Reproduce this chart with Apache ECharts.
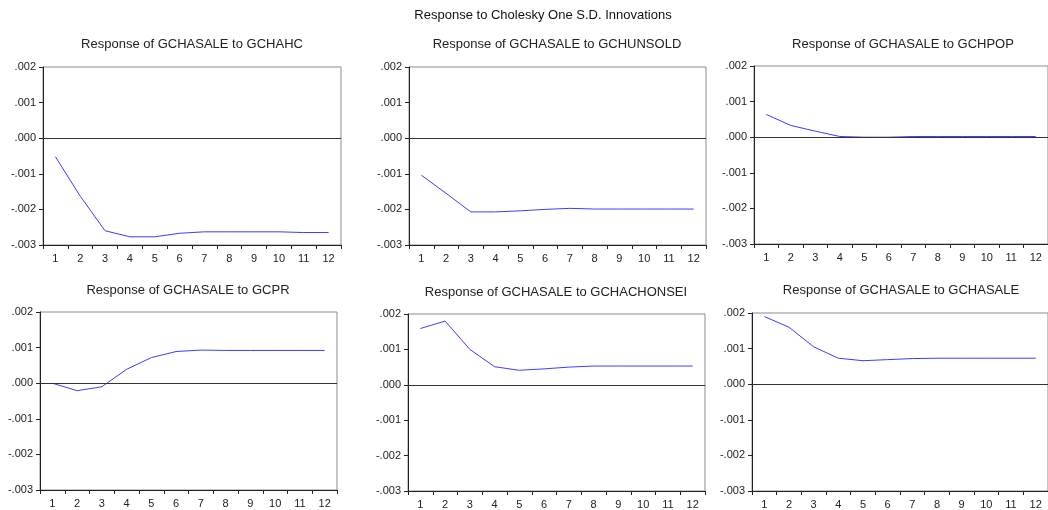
<!DOCTYPE html>
<html>
<head>
<meta charset="utf-8">
<script src="https://cdn.jsdelivr.net/npm/echarts@6/dist/echarts.min.js"></script>
<style>
html,body{margin:0;padding:0;background:#fff;}
#chart{width:1048px;height:510px;}
</style>
</head>
<body>
<div id="chart"></div>
<script>
// ---- data ----
const periods = ['1','2','3','4','5','6','7','8','9','10','11','12'];
const mainTitle = 'Response to Cholesky One S.D. Innovations';
const panelTitles = [
  'Response of GCHASALE to GCHAHC',
  'Response of GCHASALE to GCHUNSOLD',
  'Response of GCHASALE to GCHPOP',
  'Response of GCHASALE to GCPR',
  'Response of GCHASALE to GCHACHONSEI',
  'Response of GCHASALE to GCHASALE'
];
const respGCHAHC     = [-0.00052, -0.00163, -0.00260, -0.00277, -0.00277, -0.00267, -0.00263, -0.00263, -0.00263, -0.00263, -0.00265, -0.00265];
const respGCHUNSOLD  = [-0.00104, -0.00155, -0.00207, -0.00207, -0.00204, -0.00200, -0.00197, -0.00199, -0.00199, -0.00199, -0.00199, -0.00199];
const respGCHPOP     = [0.00064, 0.00033, 0.00017, 0.00002, 0.00000, 0.00000, 0.00002, 0.00002, 0.00002, 0.00002, 0.00002, 0.00002];
const respGCPR       = [0.00000, -0.00021, -0.00010, 0.00039, 0.00072, 0.00089, 0.00093, 0.00092, 0.00092, 0.00092, 0.00092, 0.00092];
const respGCHACHONSEI= [0.00159, 0.00180, 0.00100, 0.00051, 0.00041, 0.00045, 0.00050, 0.00053, 0.00053, 0.00053, 0.00053, 0.00053];
const respGCHASALE   = [0.00190, 0.00160, 0.00105, 0.00073, 0.00066, 0.00069, 0.00072, 0.00073, 0.00073, 0.00073, 0.00073, 0.00073];
const yTicks = { min: -0.003, max: 0.002, interval: 0.001 };
const allSeries = [respGCHAHC, respGCHUNSOLD, respGCHPOP, respGCPR, respGCHACHONSEI, respGCHASALE];

// ---- layout ----
const grids = [
  {left: 43,  top: 67,  width: 298, height: 178},
  {left: 409, top: 67,  width: 297, height: 178},
  {left: 754, top: 66,  width: 298, height: 178},
  {left: 40,  top: 312, width: 297, height: 178},
  {left: 408, top: 314, width: 297, height: 178},
  {left: 752, top: 313, width: 298, height: 178}
];
const titlePos = [[192,44],[557,44],[903,44],[188,290],[556,292],[901,290]];
const FONT = '"Liberation Sans", Arial, sans-serif';

function fmt(v){
  if (Math.abs(v) < 1e-9) return '.000';
  const s = Math.abs(v).toFixed(3).replace(/^0/, '');
  return (v < 0 ? '-' : '') + s;
}

const option = {
  animation: false,
  backgroundColor: '#ffffff',
  grid: grids.map(g => Object.assign({show: true, borderColor: '#8c8c8c', borderWidth: 1, backgroundColor: 'transparent'}, g)),
  xAxis: grids.map((g, i) => ({
    type: 'category', gridIndex: i, data: periods, boundaryGap: true,
    axisLine: {show: true, onZero: false, lineStyle: {color: '#222', width: 1}},
    axisTick: {show: true, length: 4, lineStyle: {color: '#222'}},
    axisLabel: {color: '#222', fontSize: 11, fontFamily: FONT, margin: 8, interval: 0},
    splitLine: {show: false}
  })),
  yAxis: grids.map((g, i) => ({
    type: 'value', gridIndex: i, min: yTicks.min, max: yTicks.max, interval: yTicks.interval,
    axisLine: {show: true, onZero: false, lineStyle: {color: '#222', width: 1}},
    axisTick: {show: true, length: 4, lineStyle: {color: '#222'}},
    axisLabel: {color: '#222', fontSize: 11, fontFamily: FONT, margin: 7, formatter: fmt},
    splitLine: {show: false}
  })),
  series: allSeries.map((d, i) => ({
    type: 'line', xAxisIndex: i, yAxisIndex: i, data: d,
    showSymbol: false, symbol: 'none',
    lineStyle: {color: '#3c3cff', width: 1},
    markLine: {
      silent: true, symbol: ['none','none'], label: {show: false},
      lineStyle: {color: '#333', width: 1, type: 'solid'},
      data: [{yAxis: 0}]
    },
    z: 3
  })),
  graphic: [
    {type: 'text', x: 543, y: 15, style: {text: mainTitle, fill: '#111', font: '13px ' + FONT, textAlign: 'center', textVerticalAlign: 'middle'}}
  ].concat(panelTitles.map((t, i) => ({
    type: 'text', x: titlePos[i][0], y: titlePos[i][1],
    style: {text: t, fill: '#222', font: '13px ' + FONT, textAlign: 'center', textVerticalAlign: 'middle'}
  })))
};

const chart = echarts.init(document.getElementById('chart'), null, {renderer: 'canvas'});
chart.setOption(option);
</script>
</body>
</html>
